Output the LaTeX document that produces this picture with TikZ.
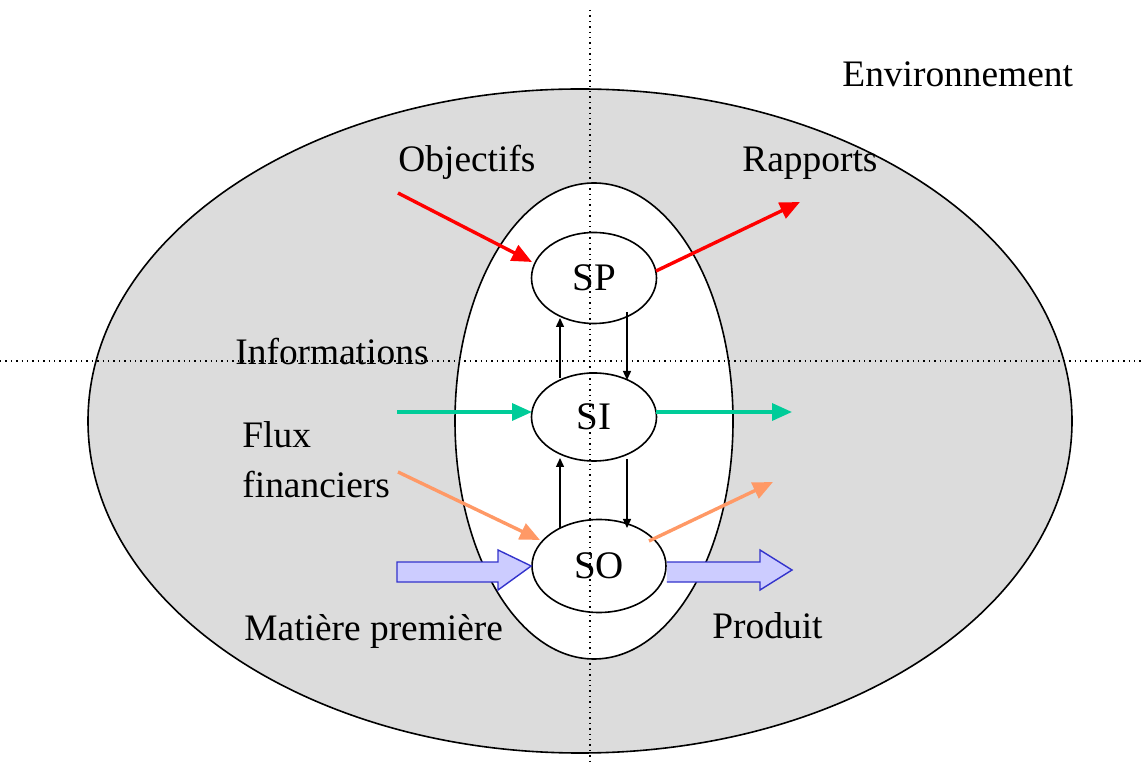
\documentclass[tikz,border=0pt]{standalone}
\usepackage{fontspec}
\setmainfont{Liberation Serif}
\usetikzlibrary{arrows.meta,shapes.geometric}
\definecolor{envgrey}{HTML}{DCDCDC}
\definecolor{redc}{HTML}{FF0000}
\definecolor{greenc}{HTML}{00CC99}
\definecolor{orangec}{HTML}{FF9966}
\definecolor{bluefill}{HTML}{CCCCFF}
\definecolor{blueline}{HTML}{3333CC}
\tikzset{
  lbl/.style={font=\fontsize{18.7}{22}\selectfont, inner sep=0pt},
  sysnode/.style={ellipse, draw=black, fill=white, line width=0.8pt, font=\fontsize{19.5}{22}\selectfont, inner sep=0pt},
  colarrow/.style={line width=1.7pt, -{Triangle[length=10pt,width=8.5pt]}},
  smallarrow/.style={line width=0.7pt, black, -{Triangle[length=4.5pt,width=4pt]}},
  fatarrow/.style={draw=blueline, fill=bluefill, line width=0.7pt, line join=miter},
  guide/.style={line width=0.7pt, dotted, black}
}
\begin{document}
\begin{tikzpicture}[x=0.5pt,y=-0.5pt]
\useasboundingbox (0,0) rectangle (1144,763);
% environment
\fill[white] (0,0) rectangle (1144,763);
\draw[fill=envgrey, line width=0.8pt] (580,421) ellipse [x radius=492, y radius=332];
\draw[fill=white, line width=0.8pt] (594,421) ellipse [x radius=139, y radius=238];
% guide lines
\draw[guide] (590,10) -- (590,763);
\draw[guide] (0,361) -- (1144,361);
% systems
\node[sysnode, minimum width=62.5pt, minimum height=45.5pt] (sp) at (594,278) {SP};
\node[sysnode, minimum width=62.5pt, minimum height=44pt] (si) at (594,417) {SI};
\node[sysnode, minimum width=67pt, minimum height=46.5pt] (so) at (599,566) {SO};
\draw[guide] (590,232) -- (590,323);
\draw[guide] (590,373) -- (590,461);
\draw[guide] (590,520) -- (590,613);
% internal arrows
\coordinate (siUL) at (560,378);
\coordinate (spBL) at (560,318);
\coordinate (spBR) at (627,312);
\coordinate (siUR) at (627,380);
\coordinate (soUL) at (560,528);
\coordinate (siBL) at (560,458);
\coordinate (siBR) at (627,459);
\coordinate (soUR) at (627,528);
\draw[smallarrow] (siUL) -- (spBL);
\draw[smallarrow] (spBR) -- (siUR);
\draw[smallarrow] (soUL) -- (siBL);
\draw[smallarrow] (siBR) -- (soUR);
% coordinates for free ends
\coordinate (objS) at (398,193);
\coordinate (spIn) at (532,262);
\coordinate (spOut) at (656,271);
\coordinate (rapE) at (800,202);
\coordinate (infS) at (397,412);
\coordinate (siIn) at (532,412);
\coordinate (siOut) at (656,412);
\coordinate (infE) at (792,412);
\coordinate (finS) at (398,472);
\coordinate (soIn) at (540,540);
\coordinate (soOut) at (649,541);
\coordinate (finE) at (773,482);
% coloured arrows
\draw[colarrow, redc] (objS) -- (spIn);
\draw[colarrow, redc] (spOut) -- (rapE);
\draw[colarrow, greenc] (infS) -- (siIn);
\draw[colarrow, greenc] (siOut) -- (infE);
\draw[colarrow, orangec] (finS) -- (soIn);
\draw[colarrow, orangec] (soOut) -- (finE);
% fat arrows
\draw[fatarrow] (397,562) -- (498,562) -- (498,550) -- (so.west) -- (498,590) -- (498,582) -- (397,582) -- cycle;
\draw[fatarrow] (so.east |- 0,562) -- (760,562) -- (760,550) -- (792,570) -- (760,590) -- (760,582) -- (so.east |- 0,582);
% labels
\node[lbl, anchor=base west] (env) at (842,87) {Environnement};
\node[lbl, anchor=base west] (obj) at (398,172) {Objectifs};
\node[lbl, anchor=base west] (rap) at (742,172) {Rapports};
\node[lbl, anchor=base west] (inf) at (235,365) {Informations};
\node[lbl, anchor=base west] (flux) at (242,448) {Flux};
\node[lbl, anchor=base west] (fin) at (242,498) {financiers};
\node[lbl, anchor=base west] (mp) at (244,640) {Matière première};
\node[lbl, anchor=base west] (prod) at (712,638) {Produit};
\end{tikzpicture}
\end{document}
